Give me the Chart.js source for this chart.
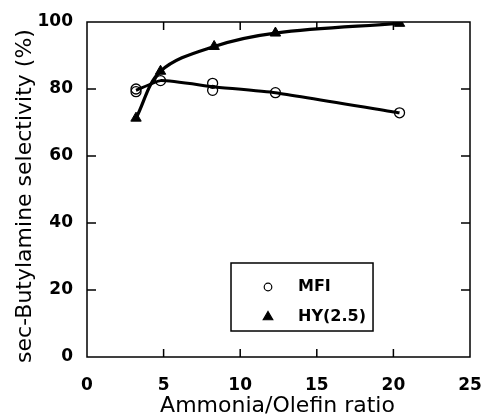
<!DOCTYPE html>
<html>
<head>
<meta charset="utf-8">
<script src="https://cdn.jsdelivr.net/npm/chart.js@4.4.1/dist/chart.umd.min.js"></script>
<style>
  html, body { margin: 0; padding: 0; background: #fff; }
  #wrap { width: 482px; height: 416px; }
</style>
</head>
<body>
<div id="wrap"><canvas id="c" width="482" height="416"></canvas></div>
<script>
// Ammonia/olefin ratio vs sec-butylamine selectivity
const mfiRatio = [3.2, 3.2, 4.8, 8.2, 8.2, 12.3, 20.4];
const mfiSel   = [79.2, 80.0, 82.5, 81.7, 79.6, 78.9, 72.9];
const mfiCurveRatio = [3.2, 4.8, 8.2, 12.3, 20.4];
const mfiCurveSel   = [79.6, 82.5, 80.7, 78.9, 72.9];
const hyRatio = [3.2, 4.8, 8.3, 12.3, 20.4];
const hySel   = [71.3, 85.3, 92.7, 96.7, 99.6];
const xTicks = [0, 5, 10, 15, 20, 25];
const yTicks = [0, 20, 40, 60, 80, 100];
const xTitle = 'Ammonia/Olefin ratio';
const yTitle = 'sec-Butylamine selectivity (%)';

const pts = (xs, ys) => xs.map((x, i) => ({ x, y: ys[i] }));

const FONT = '"DejaVu Sans", Verdana, sans-serif';
const tickFont = { family: FONT, size: 17, weight: 'bold' };

// Frame and inward tick marks on all four sides
const framePlugin = {
  id: 'frame',
  afterDatasetsDraw(chart) {
    const { ctx, chartArea: a, scales } = chart;
    ctx.save();
    ctx.strokeStyle = '#000';
    ctx.lineWidth = 1.5;
    ctx.strokeRect(a.left, a.top, a.right - a.left, a.bottom - a.top);
    ctx.beginPath();
    xTicks.forEach(v => {
      const px = scales.x.getPixelForValue(v);
      if (v > 0 && v < 25) {
        ctx.moveTo(px, a.bottom); ctx.lineTo(px, a.bottom - 8);
        ctx.moveTo(px, a.top); ctx.lineTo(px, a.top + 8);
      }
    });
    yTicks.forEach(v => {
      const py = scales.y.getPixelForValue(v);
      if (v > 0 && v < 100) {
        ctx.moveTo(a.left, py); ctx.lineTo(a.left + 9, py);
        ctx.moveTo(a.right, py); ctx.lineTo(a.right - 9, py);
      }
    });
    ctx.stroke();
    ctx.restore();
  }
};

// Axis titles
const titlePlugin = {
  id: 'axisTitles',
  afterDraw(chart) {
    const { ctx, chartArea: a } = chart;
    ctx.save();
    ctx.fillStyle = '#000';
    ctx.font = '22px ' + FONT;
    ctx.textAlign = 'center';
    ctx.textBaseline = 'middle';
    ctx.fillText(xTitle, (a.left + a.right) / 2 - 1, 406);
    ctx.translate(25, 196);
    ctx.rotate(-Math.PI / 2);
    ctx.fillText(yTitle, 0, 0);
    ctx.restore();
  }
};

// Boxed key inside the plot
const keyPlugin = {
  id: 'key',
  afterDraw(chart) {
    const { ctx, scales } = chart;
    const x0 = scales.x.getPixelForValue(9.4), x1 = scales.x.getPixelForValue(18.67);
    const y0 = scales.y.getPixelForValue(28.06), y1 = scales.y.getPixelForValue(7.76);
    ctx.save();
    ctx.fillStyle = '#fff';
    ctx.fillRect(x0, y0, x1 - x0, y1 - y0);
    ctx.strokeStyle = '#000';
    ctx.lineWidth = 1.5;
    ctx.strokeRect(x0, y0, x1 - x0, y1 - y0);
    const ds = chart.data.datasets;
    const items = [
      { label: ds[0].label, style: 'circle', r: 3.8, fill: '#fff', dy: 24 },
      { label: ds[2].label, style: 'triangle', r: 5.5, fill: '#000', dy: 54 }
    ];
    ctx.font = 'bold 16px ' + FONT;
    ctx.textBaseline = 'middle';
    ctx.textAlign = 'left';
    ctx.lineWidth = 1.2;
    items.forEach(it => {
      const cy = y0 + it.dy;
      ctx.fillStyle = it.fill;
      ctx.strokeStyle = '#000';
      Chart.helpers.drawPoint(ctx, { pointStyle: it.style, radius: it.r, rotation: 0, borderWidth: 1.2 }, x0 + 37, cy);
      ctx.fillStyle = '#000';
      ctx.fillText(it.label, x0 + 67, cy);
    });
    ctx.restore();
  }
};

new Chart(document.getElementById('c'), {
  type: 'scatter',
  data: {
    datasets: [
      {
        label: 'MFI',
        data: pts(mfiRatio, mfiSel),
        showLine: false,
        pointStyle: 'circle',
        pointRadius: 5,
        pointBackgroundColor: 'rgba(255,255,255,0)',
        pointBorderColor: '#000',
        pointBorderWidth: 1.3,
        order: 0
      },
      {
        label: 'MFI curve',
        data: pts(mfiCurveRatio, mfiCurveSel),
        showLine: true,
        borderColor: '#000',
        borderWidth: 3,
        pointRadius: 0,
        tension: 0.15,
        order: 2
      },
      {
        label: 'HY(2.5)',
        data: pts(hyRatio, hySel),
        showLine: true,
        borderColor: '#000',
        borderWidth: 3.2,
        tension: 0.35,
        pointStyle: 'triangle',
        pointRadius: 6,
        pointBackgroundColor: '#000',
        pointBorderColor: '#000',
        pointBorderWidth: 1,
        order: 1
      }
    ]
  },
  options: {
    responsive: false,
    animation: false,
    layout: { padding: { top: 22, right: 12, left: 0, bottom: 0 } },
    plugins: { legend: { display: false }, tooltip: { enabled: false } },
    scales: {
      x: {
        type: 'linear', min: 0, max: 25,
        afterBuildTicks: s => { s.ticks = xTicks.map(v => ({ value: v })); },
        afterFit: s => { s.height = 59; s.paddingLeft = 0; s.paddingRight = 0; },
        grid: { display: false, drawTicks: false },
        border: { display: false },
        ticks: { color: '#000', font: tickFont, padding: 18, maxRotation: 0 },
        title: { display: false }
      },
      y: {
        type: 'linear', min: 0, max: 100,
        afterBuildTicks: s => { s.ticks = yTicks.map(v => ({ value: v })); },
        afterFit: s => { s.width = 87; s.paddingTop = 0; s.paddingBottom = 0; },
        grid: { display: false, drawTicks: false },
        border: { display: false },
        ticks: { color: '#000', font: tickFont, padding: 14 },
        title: { display: false }
      }
    }
  },
  plugins: [framePlugin, titlePlugin, keyPlugin]
});
</script>
</body>
</html>
